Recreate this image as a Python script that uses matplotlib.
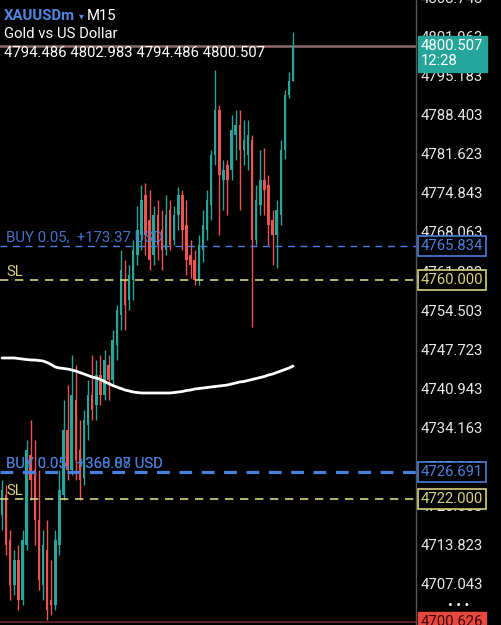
import matplotlib.pyplot as plt
from matplotlib.transforms import blended_transform_factory

# XAUUSDm M15 candles (oldest -> newest)
opens = [4719.2, 4722.7, 4714.9, 4707.1, 4711.4, 4704.5, 4714.0, 4729.6, 4727.0, 4718.4,
         4707.1, 4713.1, 4704.5, 4703.6, 4714.0, 4722.7, 4733.9, 4727.0, 4739.2, 4730.5,
         4725.6, 4734.8, 4740.0, 4738.3, 4743.5, 4740.0, 4745.2, 4742.6, 4748.7, 4753.9,
         4760.0, 4756.5, 4760.0, 4764.3, 4767.8, 4774.7, 4770.4, 4764.3, 4771.2, 4768.6,
         4765.1, 4772.1, 4766.9, 4771.2, 4774.7, 4769.5, 4764.3, 4763.4, 4760.0, 4765.1,
         4768.6, 4773.0, 4781.6, 4789.4, 4777.3, 4779.9, 4779.0, 4785.1, 4786.9, 4782.5,
         4781.6, 4784.2, 4766.9, 4773.0, 4777.3, 4776.4, 4770.4, 4767.8, 4771.2, 4782.5,
         4792.0, 4794.486]
closes = [4723.5, 4714.0, 4707.1, 4711.4, 4704.5, 4714.9, 4730.5, 4725.3, 4718.4, 4707.9,
          4714.0, 4702.7, 4703.6, 4714.9, 4723.5, 4733.9, 4727.0, 4740.0, 4728.8, 4725.3,
          4735.7, 4740.0, 4737.4, 4743.5, 4740.0, 4746.1, 4742.6, 4749.6, 4754.7, 4761.7,
          4755.6, 4760.8, 4765.1, 4768.6, 4773.9, 4767.8, 4763.4, 4771.2, 4766.0, 4765.1,
          4771.2, 4766.0, 4771.2, 4774.7, 4768.6, 4763.4, 4762.5, 4760.0, 4766.0, 4769.5,
          4773.9, 4781.6, 4789.4, 4778.2, 4779.0, 4777.3, 4786.0, 4786.9, 4782.5, 4784.2,
          4785.1, 4766.9, 4773.9, 4777.3, 4775.6, 4769.5, 4767.8, 4772.1, 4782.5, 4792.0,
          4794.5, 4800.507]
highs = [4725.3, 4724.4, 4716.6, 4713.1, 4714.0, 4716.6, 4732.2, 4735.7, 4732.2, 4727.0,
         4716.6, 4718.4, 4711.4, 4716.6, 4727.0, 4739.2, 4741.7, 4746.9, 4745.2, 4735.7,
         4737.4, 4742.6, 4746.9, 4746.1, 4746.9, 4747.8, 4746.9, 4751.3, 4755.6, 4765.1,
         4763.4, 4762.5, 4766.9, 4772.9, 4776.4, 4776.8, 4775.6, 4772.9, 4773.9, 4772.1,
         4774.7, 4773.9, 4772.9, 4776.1, 4775.6, 4773.9, 4766.9, 4765.1, 4767.8, 4772.1,
         4775.6, 4782.5, 4796.4, 4790.3, 4780.8, 4780.8, 4788.6, 4789.4, 4789.4, 4787.7,
         4787.7, 4785.1, 4776.4, 4782.5, 4782.8, 4778.2, 4772.1, 4773.9, 4784.2, 4792.9,
         4796.0, 4802.983]
lows = [4716.6, 4712.3, 4704.5, 4705.3, 4702.7, 4703.6, 4713.1, 4721.8, 4714.0, 4706.2,
        4704.5, 4701.0, 4701.9, 4702.7, 4712.3, 4721.8, 4725.3, 4726.1, 4725.3, 4721.8,
        4724.4, 4732.2, 4735.7, 4735.7, 4738.3, 4739.2, 4739.2, 4741.7, 4746.1, 4751.3,
        4751.3, 4754.7, 4756.5, 4762.5, 4765.1, 4764.3, 4761.7, 4762.5, 4763.4, 4761.7,
        4764.3, 4765.1, 4766.0, 4768.6, 4765.1, 4760.8, 4760.3, 4759.1, 4759.1, 4763.1,
        4766.9, 4770.4, 4779.9, 4767.8, 4772.1, 4771.2, 4777.3, 4780.8, 4772.1, 4779.9,
        4779.0, 4751.8, 4766.0, 4771.2, 4771.2, 4766.0, 4762.5, 4762.0, 4769.5, 4781.0,
        4791.5, 4794.486]
# moving average (white line)
ma = [4746.46, 4746.46, 4746.46, 4746.46, 4746.37, 4746.28, 4746.19, 4746.11, 4746.11, 4746.02,
      4745.94, 4745.68, 4745.33, 4744.90, 4744.72, 4744.64, 4744.55, 4744.38, 4744.20, 4743.94,
      4743.68, 4743.42, 4743.16, 4742.99, 4742.73, 4742.38, 4742.03, 4741.69, 4741.43, 4741.17,
      4740.91, 4740.74, 4740.56, 4740.47, 4740.39, 4740.39, 4740.39, 4740.39, 4740.39, 4740.39,
      4740.39, 4740.39, 4740.47, 4740.56, 4740.65, 4740.82, 4740.91, 4741.08, 4741.17, 4741.25,
      4741.34, 4741.43, 4741.52, 4741.60, 4741.69, 4741.78, 4741.95, 4742.12, 4742.30, 4742.38,
      4742.56, 4742.73, 4742.90, 4743.08, 4743.25, 4743.51, 4743.68, 4743.94, 4744.20, 4744.46,
      4744.72, 4745.07]

price_ticks = [4808.743, 4801.963, 4795.183, 4788.403, 4781.623, 4774.843, 4768.063, 4761.283,
               4754.503, 4747.723, 4740.943, 4734.163, 4727.383, 4720.603, 4713.823, 4707.043]

current_price = 4800.507
bar_time = '12:28'
bottom_price = 4700.626
buy_levels = [4765.834, 4726.691]
buy_texts = [['BUY 0.05,  +173.37 USD'], ['BUY 0.05,  +368.08 USD', 'BUY 0.05,  +360.87 USD']]
sl_levels = [4760.000, 4722.000]

plt.rcParams['font.family'] = ['Roboto', 'DejaVu Sans']
FS = 10.7
BULL = '#26a69a'
BEAR = '#ef5350'
BLUE = '#4a80dd'
YELLOW = '#d8d27c'

fig = plt.figure(figsize=(5.01, 6.25), dpi=100, facecolor='black')
ax = fig.add_axes([0, 0, 416 / 501, 1])
ax.set_facecolor('black')
ax.set_xlim(-0.49, 100.98)
ax.set_ylim(4700.16, 4808.535)
ax.set_xticks([])
ax.set_yticks([])
for side, sp in ax.spines.items():
    sp.set_visible(side == 'right')
ax.spines['right'].set_color('#555555')
ax.spines['right'].set_linewidth(1)

x = list(range(len(opens)))
up = [c >= o for o, c in zip(opens, closes)]
cols = [BULL if u else BEAR for u in up]
ax.vlines(x, lows, highs, colors=cols, lw=1, zorder=2)
heights = [max(abs(c - o), 0.2) for o, c in zip(opens, closes)]
bottoms = [min(o, c) for o, c in zip(opens, closes)]
ax.bar(x, heights, bottom=bottoms, width=0.6, color=cols, lw=0, zorder=3)

ax.plot(x, ma, color='white', lw=2.0, zorder=4, solid_capstyle='round')

# trade lines
ax.axhline(current_price, color='#8e6d6d', lw=1.8, zorder=1)
ax.axhline(bottom_price, color='#6e2c2c', lw=1.2, zorder=1)
ax.axhline(buy_levels[0], color=BLUE, lw=1, dashes=(5, 4), zorder=5)
ax.axhline(buy_levels[1], color=BLUE, lw=2.3, dashes=(4, 3), zorder=5)
for lv in sl_levels:
    ax.axhline(lv, color=YELLOW, lw=1.2, dashes=(5, 4), zorder=5)

tr = blended_transform_factory(ax.transAxes, ax.transData)
for lv, texts in zip(buy_levels, buy_texts):
    for t in texts:
        ax.text(6 / 416, lv + 1.55, t, transform=tr, color=BLUE, fontsize=FS,
                va='center', ha='left', zorder=6, alpha=0.9)
for lv in sl_levels:
    ax.text(6 / 416, lv + 1.35, 'SL', transform=tr, color=YELLOW, fontsize=FS,
            va='center', ha='left', zorder=6)

# price scale
lx = 421 / 416
for v in price_ticks:
    ax.text(lx, v, f'{v:.3f}', transform=tr, color='#e8e8e8', fontsize=FS,
            va='center', ha='left', clip_on=False, zorder=6)

ax.text(lx, current_price + 1.3, f'{current_price:.3f}\n{bar_time}', transform=tr,
        color='white', fontsize=FS, va='top', ha='left', clip_on=False, zorder=8,
        linespacing=1.15,
        bbox=dict(boxstyle='square,pad=0.22', fc=BULL, ec=BULL))
for lv in buy_levels:
    ax.text(lx, lv, f'{lv:.3f}', transform=tr, color=BLUE, fontsize=FS,
            va='center', ha='left', clip_on=False, zorder=8,
            bbox=dict(boxstyle='square,pad=0.2', fc='black', ec=BLUE, lw=1.2))
for lv in sl_levels:
    ax.text(lx, lv, f'{lv:.3f}', transform=tr, color=YELLOW, fontsize=FS,
            va='center', ha='left', clip_on=False, zorder=8,
            bbox=dict(boxstyle='square,pad=0.2', fc='black', ec=YELLOW, lw=1.2))
ax.text(lx, bottom_price, f'{bottom_price:.3f}', transform=tr, color='#3a0505',
        fontsize=FS, va='center', ha='left', clip_on=False, zorder=8,
        bbox=dict(boxstyle='square,pad=0.2', fc='#e8473d', ec='#e8473d'))

fig.text(459 / 501, 1 - 606 / 625, '• • •', color='white', fontsize=10,
         ha='center', va='center')

# header
fig.text(4 / 501, 1 - 16 / 625, 'XAUUSDm', color='#4f86e0', fontsize=FS,
         fontweight='bold', va='center', ha='left')
fig.text(79 / 501, 1 - 16 / 625, '▾', color='#4f86e0', fontsize=7,
         va='center', ha='left', family=['DejaVu Sans'])
fig.text(87 / 501, 1 - 16 / 625, 'M15', color='white', fontsize=FS,
         va='center', ha='left')
fig.text(4 / 501, 1 - 34 / 625, 'Gold vs US Dollar', color='white', fontsize=FS,
         va='center', ha='left')
fig.text(4 / 501, 1 - 53 / 625,
         f'{opens[-1]:.3f} {highs[-1]:.3f} {lows[-1]:.3f} {closes[-1]:.3f}',
         color='white', fontsize=FS, va='center', ha='left')

fig.savefig('out.png', dpi=100, facecolor='black')
